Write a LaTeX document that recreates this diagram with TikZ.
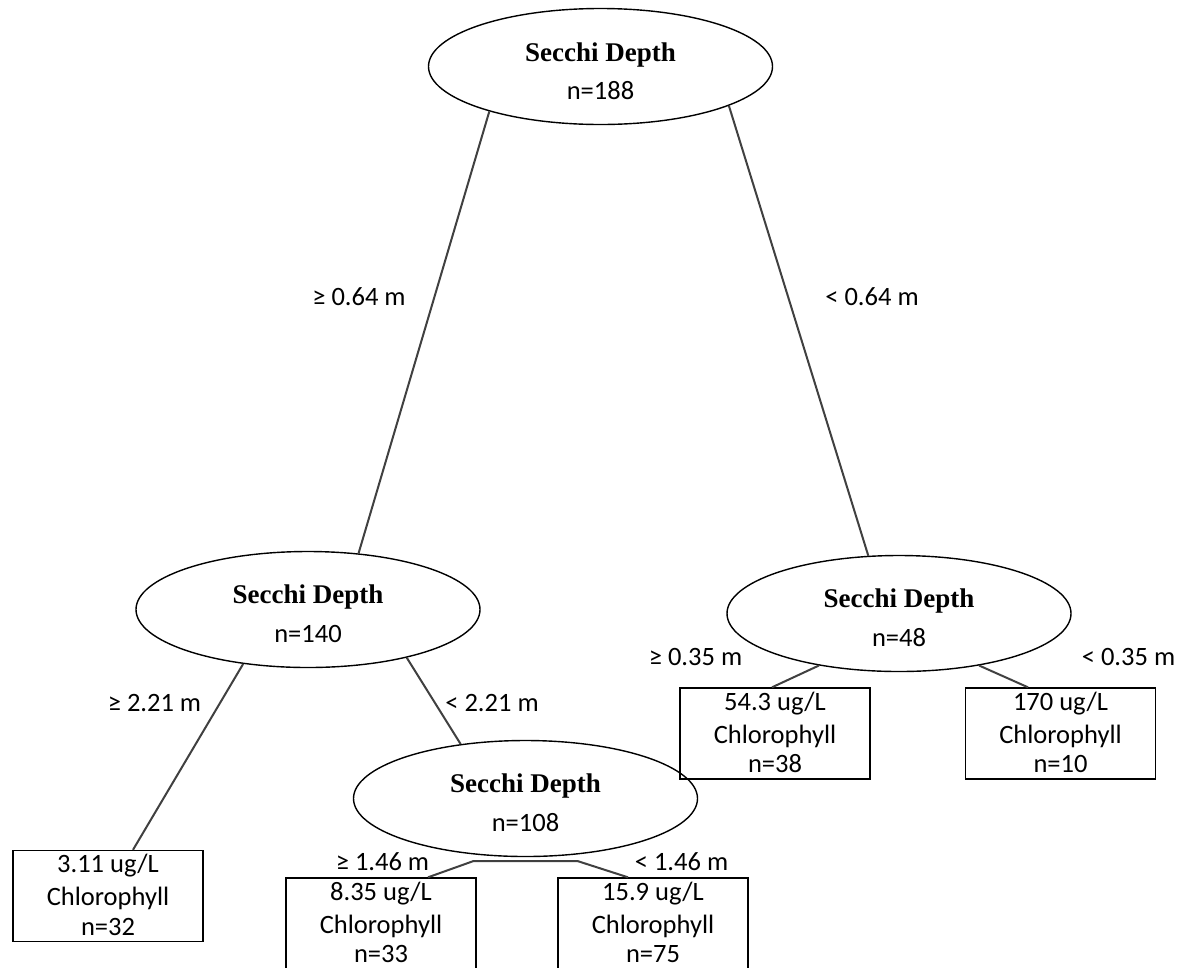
\documentclass[tikz,border=0pt]{standalone}
\usepackage{fontspec}
\setmainfont{Carlito}
\newfontfamily\serifbold{Liberation Serif}
\usetikzlibrary{shapes.geometric,calc}
% leaf box: name, centre x, centre y, three text lines
\newcommand\leafbox[6]{%
  \node[leaf] (#1) at (#2,#3) {};
  \node[line] (#1-a) at ($(#1.north)+(0,23)$) {#4};
  \node[line] (#1-b) at ($(#1.north)+(0,56)$) {#5};
  \node[line] (#1-c) at ($(#1.north)+(0,85.5)$) {#6};
}
\begin{document}
\begin{tikzpicture}[x=1pt,y=-1pt,
  split/.style={ellipse,draw=black,line width=1.4pt,minimum width=344pt,minimum height=116pt,inner sep=0pt},
  leaf/.style={rectangle,draw=black,line width=1.4pt,minimum width=190pt,minimum height=91pt,inner sep=0pt},
  line/.style={anchor=base,inner sep=0pt,font=\fontsize{26.5}{31}\selectfont},
  title/.style={anchor=base,font=\serifbold\bfseries\fontsize{27}{30}\selectfont},
  count/.style={anchor=base,font=\fontsize{26.5}{30}\selectfont},
  cond/.style={font=\fontsize{26.5}{30}\selectfont},
  edge/.style={draw={rgb,255:red,64;green,64;blue,64},line width=2pt}
]
\useasboundingbox (0,0) rectangle (1182,967);

% split nodes
\node[split] (sroot) at (600.5,66.5) {};
\node[title] (troot) at ($(sroot)+(0,-5)$) {Secchi Depth};
\node[count] (croot) at ($(sroot)+(0,33)$) {n=188};

\node[split] (s140) at (308,609.5) {};
\node[title] (t140) at ($(s140)+(0,-6)$) {Secchi Depth};
\node[count] (c140) at ($(s140)+(0,33)$) {n=140};

\node[split] (s48) at (899,613.5) {};
\node[title] (t48) at ($(s48)+(0,-6)$) {Secchi Depth};
\node[count] (c48) at ($(s48)+(0,33)$) {n=48};

\node[split] (s108) at (525.5,798.5) {};
\node[title] (t108) at ($(s108)+(0,-6)$) {Secchi Depth};
\node[count] (c108) at ($(s108)+(0,33)$) {n=108};

% leaves
\leafbox{l311}{108}{896}{3.11 ug/L}{Chlorophyll}{n=32}
\leafbox{l835}{381}{923.5}{8.35 ug/L}{Chlorophyll}{n=33}
\leafbox{l159}{653}{923.5}{15.9 ug/L}{Chlorophyll}{n=75}
\leafbox{l543}{775}{733.5}{54.3 ug/L}{Chlorophyll}{n=38}
\leafbox{l170}{1060.5}{733.5}{170 ug/L}{Chlorophyll}{n=10}

% connectors
\draw[edge] (sroot.202.4) -- (s140.48.5);
\draw[edge] (sroot.343.9) -- (s48.118.1);
\draw[edge] (s140.220.1) -- ($(l311.north)+(25,0)$);
\draw[edge] (s140.334.6) -- (s108.140.1);
\draw[edge] (s48.213.5) -- ($(l543.north)+(-3,0)$);
\draw[edge] (s48.327.2) -- ($(l170.north)+(-32.5,0)$);
\draw[edge] ($(l835.north)+(47,0)$) -- ($(s108.south)+(-52.5,4)$)
  -- ($(s108.south)+(52.5,4)$) -- ($(l159.north)+(-25,0)$);

% split conditions
\node[cond] (q1) at (359,297) {≥ 0.64 m};
\node[cond] (q2) at (872,297) {< 0.64 m};
\node[cond] (q3) at (154.5,703) {≥ 2.21 m};
\node[cond] (q4) at (492,703) {< 2.21 m};
\node[cond] (q5) at (695.5,657) {≥ 0.35 m};
\node[cond] (q6) at (1128.5,657) {< 0.35 m};
\node[cond] (q7) at (382.5,862) {≥ 1.46 m};
\node[cond] (q8) at (681.5,862) {< 1.46 m};
\end{tikzpicture}
\end{document}
